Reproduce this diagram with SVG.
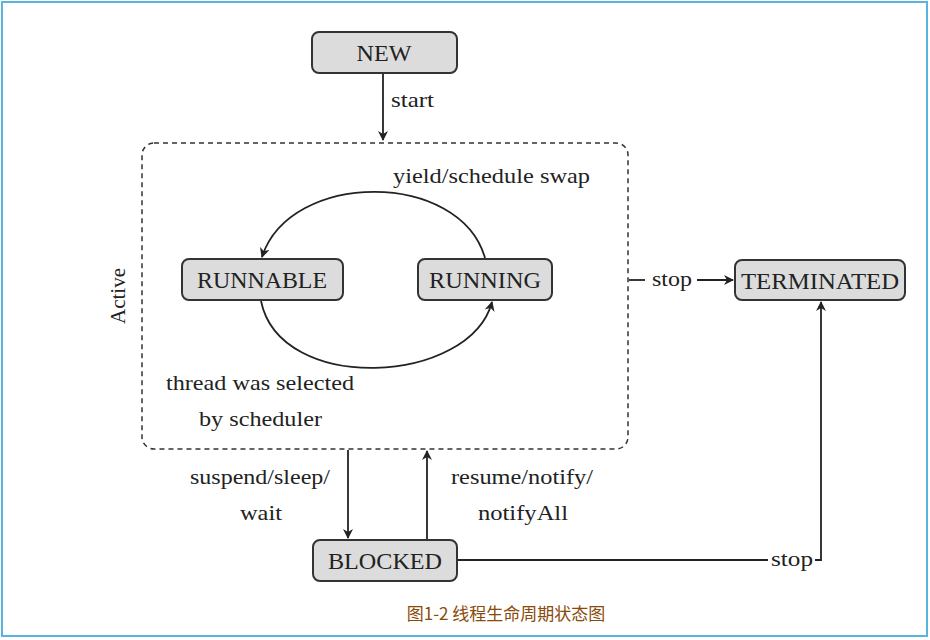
<svg xmlns="http://www.w3.org/2000/svg" width="930" height="640" viewBox="0 0 930 640">
<defs>
<marker id="ar" viewBox="0 0 10 10" refX="9" refY="5" markerWidth="10" markerHeight="10" markerUnits="userSpaceOnUse" orient="auto"><path d="M0,0 L10,5 L0,10 L3,5 Z" fill="#222"/></marker>
<style>
.n rect{fill:#dcdcdc;stroke:#333;stroke-width:2}
.n text{font-family:"Liberation Serif",serif;font-size:23px;fill:#222;text-anchor:middle}
.l{font-family:"Liberation Serif",serif;font-size:21px;fill:#222}
.c{fill:none;stroke:#222;stroke-width:1.8}
</style>
</defs>
<rect width="930" height="640" fill="#fff"/>
<rect x="2" y="2" width="925" height="634" fill="none" stroke="#5ab4e0" stroke-width="2"/>
<rect x="142" y="143" width="486" height="306" rx="12" fill="none" stroke="#333" stroke-width="1.5" stroke-dasharray="5,4"/>
<text class="l" transform="translate(125,296) rotate(-90)" text-anchor="middle" font-size="23">Active</text>
<g id="connectors">
<path class="c" d="M383,74 V140" marker-end="url(#ar)"/>
<path class="c" d="M485,258 C460,170 290,170 262,257" marker-end="url(#ar)"/>
<path class="c" d="M261,301 C280,395 470,385 492,302" marker-end="url(#ar)"/>
<path class="c" d="M629,280 H645"/>
<path class="c" d="M697,280 H733" marker-end="url(#ar)"/>
<path class="c" d="M348,450 V538" marker-end="url(#ar)"/>
<path class="c" d="M427,539 V451" marker-end="url(#ar)"/>
<path class="c" d="M458,560 H768"/>
<path class="c" d="M815,560 H821 V302" marker-end="url(#ar)"/>
</g>
<text class="l" x="391" y="107" textLength="43" lengthAdjust="spacingAndGlyphs">start</text>
<text class="l" x="393" y="183" textLength="197" lengthAdjust="spacingAndGlyphs">yield/schedule swap</text>
<text class="l" x="166" y="390" textLength="188" lengthAdjust="spacingAndGlyphs">thread was selected</text>
<text class="l" x="199" y="426" textLength="123" lengthAdjust="spacingAndGlyphs">by scheduler</text>
<text class="l" x="652" y="286" textLength="40" lengthAdjust="spacingAndGlyphs">stop</text>
<text class="l" x="190" y="484" textLength="140" lengthAdjust="spacingAndGlyphs">suspend/sleep/</text>
<text class="l" x="240" y="520" textLength="42" lengthAdjust="spacingAndGlyphs">wait</text>
<text class="l" x="451" y="484" textLength="142" lengthAdjust="spacingAndGlyphs">resume/notify/</text>
<text class="l" x="478" y="520" textLength="90" lengthAdjust="spacingAndGlyphs">notifyAll</text>
<text class="l" x="771" y="566" textLength="42" lengthAdjust="spacingAndGlyphs">stop</text>
<g id="new" class="n"><rect x="312" y="32" width="145" height="41" rx="7"/><text x="384" y="61" textLength="55" lengthAdjust="spacingAndGlyphs">NEW</text></g>
<g id="runnable" class="n"><rect x="182" y="259" width="161" height="41" rx="7"/><text x="262" y="288" textLength="130" lengthAdjust="spacingAndGlyphs">RUNNABLE</text></g>
<g id="running" class="n"><rect x="418" y="259" width="134" height="41" rx="7"/><text x="485" y="288" textLength="112" lengthAdjust="spacingAndGlyphs">RUNNING</text></g>
<g id="terminated" class="n"><rect x="735" y="260" width="170" height="40" rx="7"/><text x="820" y="289" textLength="158" lengthAdjust="spacingAndGlyphs">TERMINATED</text></g>
<g id="blocked" class="n"><rect x="313" y="540" width="144" height="41" rx="7"/><text x="385" y="569" textLength="114" lengthAdjust="spacingAndGlyphs">BLOCKED</text></g>
<text x="506" y="620" font-family="'Noto Sans CJK SC',sans-serif" font-size="17" fill="#8a4a0a" text-anchor="middle">图1-2 线程生命周期状态图</text>
</svg>
